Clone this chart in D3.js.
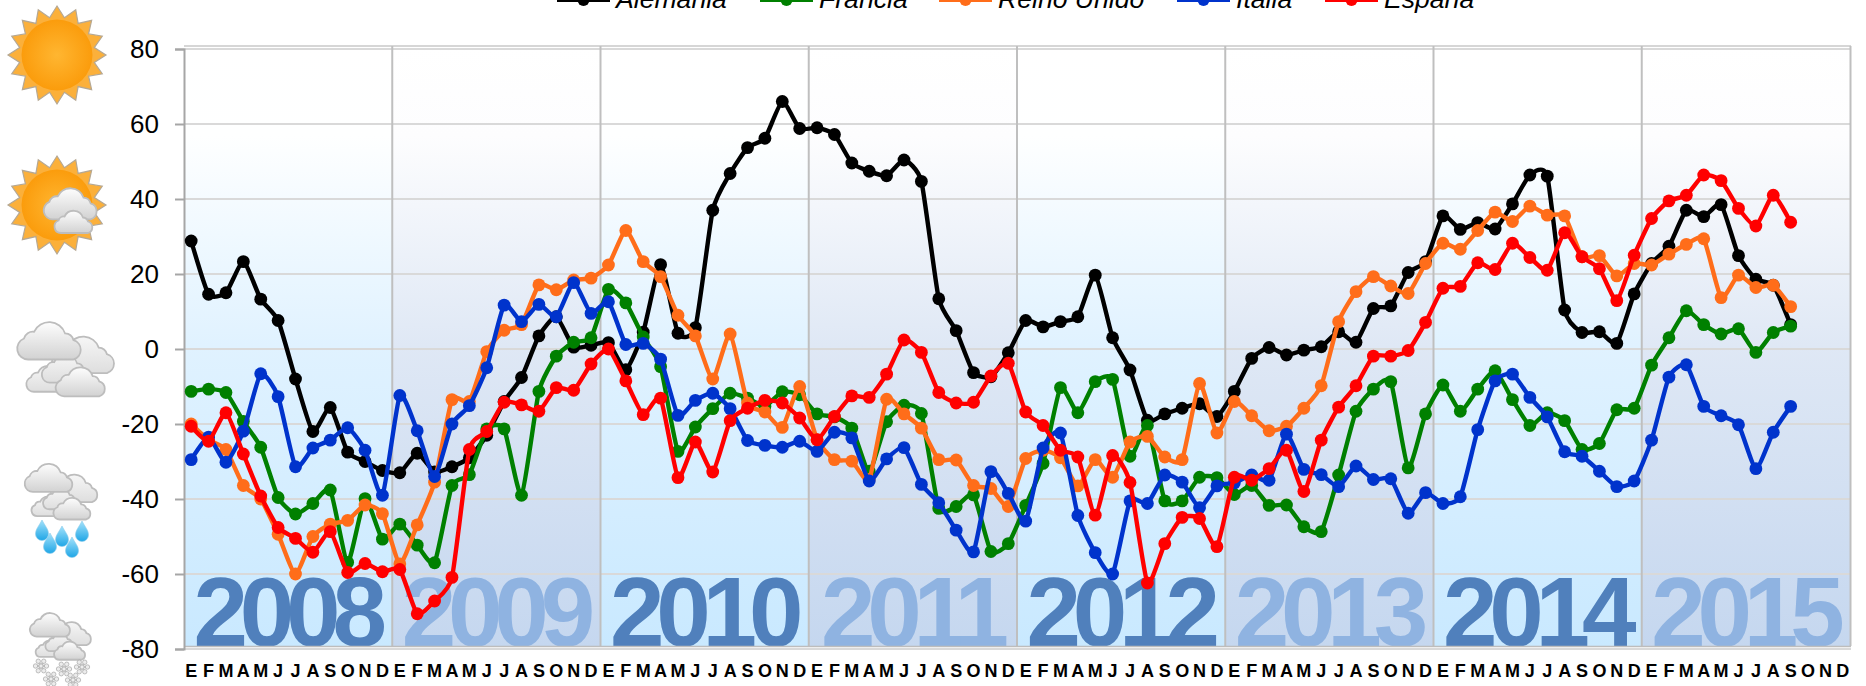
<!DOCTYPE html>
<html><head><meta charset="utf-8">
<script src="https://cdnjs.cloudflare.com/ajax/libs/d3/7.8.5/d3.min.js"></script>
<style>html,body{margin:0;padding:0;background:#fff;overflow:hidden}svg{display:block;font-family:"Liberation Sans",Arial,sans-serif}</style>
</head><body><svg id="c" width="1866" height="686"></svg>
<script>
const monthLetters = ["E","F","M","A","M","J","J","A","S","O","N","D"];
const years = [2008,2009,2010,2011,2012,2013,2014,2015];
const yTicks = [80,60,40,20,0,-20,-40,-60,-80];
const alemania = [28.8,14.6,15,23.3,13.3,7.6,-8,-22,-15.6,-27.5,-30,-32.4,
 -33,-27.8,-32.8,-31.4,-29,-23,-14,-7.6,3.5,8.6,0.5,1,
 1.7,-5.5,4.5,22.5,4.2,5.7,37,46.8,53.7,56.2,66,58.8,
 59,57.2,49.6,47.4,46.2,50.4,44.7,13.4,4.9,-6.3,-7.4,-1,
 7.6,5.9,7.3,8.6,19.7,3,-5.6,-19,-17.3,-15.8,-14.6,-18,
 -11.3,-2.5,0.4,-1.6,-0.3,0.6,4.6,1.8,10.8,11.5,20.4,23.3,
 35.5,31.9,33.7,32,38.7,46.4,46.1,10.4,4.4,4.6,1.5,14.7,
 22.8,27.4,37,35.3,38.5,24.9,18.6,17,6.5];
const francia = [-11.3,-10.7,-11.6,-19.3,-26.2,-39.6,-44,-41.2,-37.6,-56.9,-39.9,-50.7,
 -46.7,-52.3,-57,-36.4,-33.5,-21.3,-21.3,-39,-11.3,-1.9,1.8,3,
 15.9,12.3,3.2,-4.7,-27.3,-20.8,-15.9,-11.8,-13.1,-15.3,-11.4,-12.2,
 -17.3,-18.1,-21.1,-32.6,-19.4,-15,-17.2,-42.5,-42,-38.9,-54,-51.9,
 -41.7,-30.5,-10.3,-17,-8.7,-8.1,-28.6,-20.4,-40.5,-40.5,-34.2,-34.3,
 -38.8,-36.4,-41.7,-41.6,-47.4,-48.7,-33.6,-16.6,-10.7,-8.7,-31.7,-17.3,
 -9.6,-16.6,-10.7,-5.8,-13.5,-20.4,-17,-19.1,-26.8,-25.2,-16.2,-15.8,
 -4.3,3,10.2,6.5,4,5.4,-0.9,4.4,6.1];
const reinoUnido = [-20,-24.2,-26.8,-36.4,-40,-49.4,-60,-50,-46.7,-45.7,-41.6,-43.9,
 -57.3,-46.9,-35.5,-13.5,-14,-0.7,5,6.5,17.1,15.8,18.4,18.9,
 22.4,31.6,23.3,19.3,9,3.5,-8,4,-14.4,-16.8,-20.9,-10,
 -24.2,-29.5,-29.9,-34.8,-13.4,-17.3,-21.1,-29.5,-29.6,-36.4,-37.2,-42,
 -29.2,-27,-29,-36.5,-29.5,-34.2,-24.8,-23.3,-28.8,-29.5,-9.2,-22.4,
 -14,-17.8,-21.8,-20.6,-15.8,-9.8,7.3,15.3,19.3,16.8,14.8,22.8,
 28.2,26.6,31.6,36.5,34,38.1,35.7,35.5,24.6,24.9,19.5,22.8,
 22.4,25.3,27.9,29.4,13.7,19.7,16.4,17,11.3];
const italia = [-29.5,-23.5,-30.2,-21.9,-6.6,-12.7,-31.4,-26.4,-24.3,-21,-27,-39,
 -12.4,-21.8,-34,-20,-15.1,-5,11.7,7.3,11.9,8.6,17.7,9.5,
 12.6,1.2,1.5,-2.7,-17.7,-13.7,-11.8,-15.9,-24.4,-25.7,-26.2,-24.6,
 -27.3,-22.2,-23.7,-35.2,-29.3,-26.3,-36.1,-41,-48.3,-54.1,-32.7,-38.5,
 -45.9,-26.4,-22.4,-44.4,-54.3,-60,-40.5,-41.2,-33.6,-35.5,-42.3,-36.5,
 -35.7,-33.6,-35,-22.7,-32.1,-33.5,-36.7,-31.2,-34.8,-34.6,-43.8,-38.3,
 -41.2,-39.4,-21.5,-8.5,-6.7,-12.9,-18.1,-27.4,-28.6,-32.6,-36.7,-35.2,
 -24.3,-7.5,-4.2,-15.3,-17.8,-20.2,-31.9,-22.2,-15.3];
const espana = [-20.6,-24.6,-17,-28,-39.2,-47.6,-50.5,-54.2,-48.7,-59.6,-57.2,-59.4,
 -58.8,-70.6,-67.2,-60.9,-26.8,-22,-14.2,-14.9,-16.6,-10.3,-11,-4,
 0,-8.5,-17.5,-13.1,-34.3,-24.8,-32.8,-19.1,-15.8,-13.7,-14.4,-18.4,
 -24.2,-18,-12.5,-12.9,-6.7,2.4,-0.9,-11.6,-14.4,-14.2,-7.2,-3.8,
 -16.8,-20.4,-27,-28.8,-44.3,-28.4,-35.6,-62.4,-51.9,-44.9,-45.2,-52.7,
 -34.2,-35,-31.9,-27,-38,-24.3,-15.5,-9.8,-1.9,-1.9,-0.4,7.1,
 16.2,16.7,23,21.2,28.2,24.4,21,31,24.6,21.4,12.9,25,
 34.8,39.5,41,46.4,44.9,37.5,32.8,41,33.8];
const seriesNames = ["Alemania","Francia","Reino Unido","Italia","España"];
const seriesColors = ["#000000","#008000","#ff6d1a","#0033cc","#ff0000"];
const seriesValues = [alemania,francia,reinoUnido,italia,espana];
const legendX = [557,760,939,1177,1325];

const svg = d3.select("#c");
const defs = svg.append("defs");
const months = d3.range(years.length*12);
const x = d3.scaleBand().domain(months).range([182.5,1851.5]);
const cx = i => x(i)+x.bandwidth()/2;
const y = d3.scaleLinear().domain([-80,80]).range([649,49]);
const bandX = d3.scaleBand().domain(years).range([184,1850]);

function grad(id,stops){
  const g=defs.append("linearGradient").attr("id",id).attr("x1",0).attr("x2",0).attr("y1",0).attr("y2",1);
  stops.forEach(s=>g.append("stop").attr("offset",s[0]).attr("stop-color",s[1]));
}
grad("gA",[[0,"#ffffff"],[0.15,"#feffff"],[0.5,"#e0f2ff"],[1,"#c9e9ff"]]);
grad("gB",[[0,"#ffffff"],[0.15,"#fdfdfe"],[0.5,"#dfe8f5"],[1,"#c5d7ef"]]);
grad("cloudG",[[0,"#fdfdfd"],[1,"#d2d2d2"]]);
grad("cloudB",[[0,"#f6f6f6"],[1,"#dedede"]]);
grad("dropG",[[0,"#a4e2fb"],[1,"#1fa6e6"]]);
const rg=defs.append("radialGradient").attr("id","sunG");
rg.append("stop").attr("offset",0).attr("stop-color","#ffb631");
rg.append("stop").attr("offset",1).attr("stop-color","#fb9c0c");

// bands
svg.append("g").selectAll("rect").data(years).join("rect")
 .attr("x",d=>bandX(d)).attr("y",46).attr("width",bandX.bandwidth()).attr("height",600)
 .attr("fill",(d,i)=>i%2?"url(#gB)":"url(#gA)");

// year labels
svg.append("g").selectAll("text").data(years).join("text")
 .attr("x",d=>bandX(d)+bandX.bandwidth()/2-2).attr("y",645.5)
 .attr("text-anchor","middle").attr("font-weight","bold").attr("font-size",98)
 .attr("letter-spacing",-8.2).attr("fill",(d,i)=>i%2?"#8fb3e1":"#5080bc").text(d=>d);

// grid
svg.append("g").selectAll("line").data(yTicks).join("line")
 .attr("x1",184).attr("x2",1851).attr("y1",d=>y(d)).attr("y2",d=>y(d))
 .attr("stroke","#d9d9d9").attr("stroke-width",2);
svg.append("line").attr("x1",184).attr("x2",1851).attr("y1",46).attr("y2",46).attr("stroke","#c8c8c8").attr("stroke-width",1.5);
svg.append("g").selectAll("line").data(years.slice(1).concat([2016])).join("line")
 .attr("x1",d=>d===2016?1850.5:bandX(d)).attr("x2",d=>d===2016?1850.5:bandX(d))
 .attr("y1",46).attr("y2",646).attr("stroke","#bfbfbf").attr("stroke-width",2);
svg.append("line").attr("x1",184).attr("x2",1851).attr("y1",646.5).attr("y2",646.5).attr("stroke","#bdbdbd").attr("stroke-width",1.5);

// y axis
const ax = svg.append("g").attr("transform","translate(184,0)")
 .call(d3.axisLeft(y).tickValues(yTicks).tickSize(9).tickPadding(16).tickFormat(d=>String(d)));
ax.selectAll("text").attr("font-size",26).attr("font-family","Liberation Sans").attr("fill","#000");
ax.selectAll("line").attr("stroke","#a6a6a6").attr("stroke-width",2);
ax.select(".domain").attr("stroke","#a6a6a6").attr("stroke-width",2);

// month labels
const xAxisG = svg.append("g").attr("transform","translate(0,661)")
 .call(d3.axisBottom(x).tickSize(0).tickPadding(3).tickFormat(i=>monthLetters[i%12]));
xAxisG.select(".domain").remove();
xAxisG.selectAll("text").attr("font-size",18).attr("font-weight","bold").attr("font-family","Liberation Sans").attr("fill","#000");

// series
const line = d3.line().x((d,i)=>cx(i)).y(d=>y(d)).curve(d3.curveCardinal.tension(0.45));
seriesValues.forEach((vals,k)=>{
  const g=svg.append("g");
  g.append("path").attr("d",line(vals)).attr("fill","none").attr("stroke",seriesColors[k]).attr("stroke-width",4.4).attr("stroke-linejoin","round");
  g.selectAll("circle").data(vals).join("circle").attr("cx",(d,i)=>cx(i)).attr("cy",d=>y(d)).attr("r",6.4).attr("fill",seriesColors[k]);
});

// legend
const lg = svg.append("g");
seriesNames.forEach((n,k)=>{
  const lx=legendX[k];
  lg.append("line").attr("x1",lx).attr("x2",lx+53).attr("y1",0).attr("y2",0).attr("stroke",seriesColors[k]).attr("stroke-width",4);
  lg.append("circle").attr("cx",lx+26.5).attr("cy",0).attr("r",6).attr("fill",seriesColors[k]);
  lg.append("text").attr("x",lx+59).attr("y",8).attr("font-size",26.6).attr("font-style","italic").attr("fill","#000").text(n);
});

// weather icons
function sun(g,cx0,cy0){
  const n=16,pts=[];
  for(let i=0;i<n*2;i++){const r=i%2?38:49,a=-Math.PI/2+i*Math.PI/n;pts.push([cx0+r*Math.cos(a),cy0+r*Math.sin(a)]);}
  g.append("polygon").attr("points",pts.map(p=>p.join(",")).join(" ")).attr("fill","#fbb03b").attr("stroke","#b5a894").attr("stroke-width",1.2);
  g.append("circle").attr("cx",cx0).attr("cy",cy0).attr("r",35.5).attr("fill","url(#sunG)");
}
function cloud(g,ox,oy,s,fill){
  const c=g.append("g").attr("transform",`translate(${ox},${oy}) scale(${s})`);
  const d="M-26,22 a13,13 0 0 1 -5,-25 a11,11 0 0 1 12,-8 a20,20 0 0 1 37,2 a11,11 0 0 1 10,8 a12,12 0 0 1 0,23 z";
  c.append("path").attr("d",d).attr("fill",fill||"url(#cloudG)").attr("stroke","#bdbdbd").attr("stroke-width",1.8/s);
}
function cloudStack(g,ox,oy,s){
  cloud(g,ox+19*s,oy-2*s,s*0.82,"url(#cloudB)");
  cloud(g,ox-16*s,oy+22*s,s*0.58,"url(#cloudB)");
  cloud(g,ox+1*s,oy+12*s,s*0.62,"url(#cloudB)");
  cloud(g,ox-15*s,oy-16*s,s*0.84);
  cloud(g,ox+16*s,oy+25*s,s*0.65);
}
function drop(g,dx,dy){
  g.append("path").attr("d",`M${dx},${dy-10} C${dx+3},${dy-4} ${dx+6.5},${dy-1} ${dx+6.5},${dy+4} A6.5,6.5 0 0 1 ${dx-6.5},${dy+4} C${dx-6.5},${dy-1} ${dx-3},${dy-4} ${dx},${dy-10} z`)
   .attr("fill","url(#dropG)").attr("stroke","#8fcdeb").attr("stroke-width",0.6);
}
function flake(g,dx,dy){
  const f=g.append("g").attr("transform",`translate(${dx},${dy})`);
  d3.range(6).forEach(i=>{const a=i*Math.PI/3;
    f.append("line").attr("x2",6*Math.cos(a)).attr("y2",6*Math.sin(a)).attr("stroke","#c4c4c4").attr("stroke-width",2.4);
    f.append("circle").attr("cx",5.5*Math.cos(a)).attr("cy",5.5*Math.sin(a)).attr("r",2.2).attr("fill","#ececec").attr("stroke","#a8a8a8").attr("stroke-width",.7);
  });
  f.append("circle").attr("r",2).attr("fill","#eee").attr("stroke","#aaa").attr("stroke-width",.6);
}
const ic = svg.append("g");
sun(ic,57,55);
sun(ic,57,205);
cloud(ic,71,204,0.7);
cloud(ic,74,222,0.5);
cloudStack(ic,65,357,1);
cloudStack(ic,60.5,490,0.75);
[[42,530],[62,536],[82,531],[50,543],[72,547]].forEach(p=>drop(ic,p[0],p[1]));
cloudStack(ic,60,635,0.63);
[[41,666],[64,669],[82,667],[51,679],[73,680]].forEach(p=>flake(ic,p[0],p[1]));
</script></body></html>
